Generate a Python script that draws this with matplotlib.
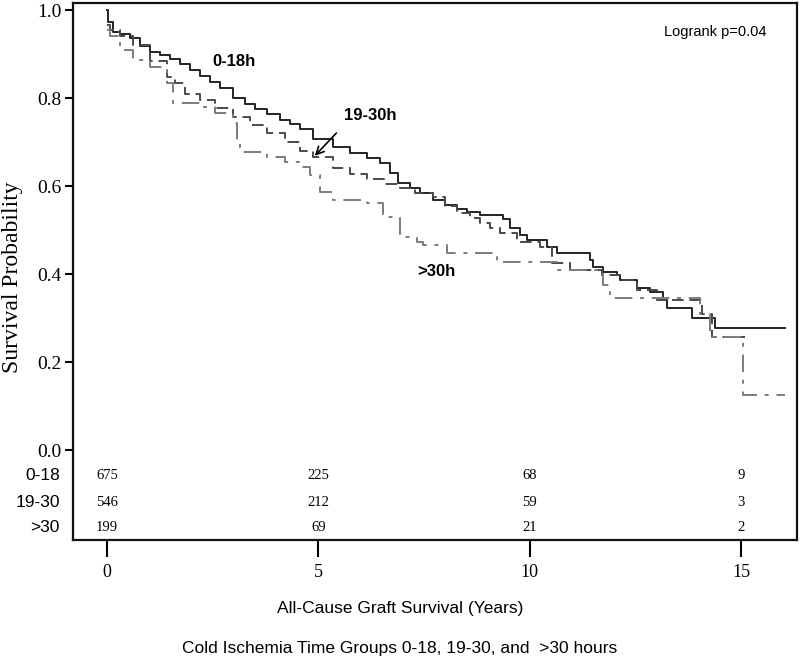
import matplotlib
matplotlib.use("Agg")
import matplotlib.pyplot as plt

# ---- data ----
t_0_18 = [0, 0.02, 0.14, 0.31, 0.54, 0.78, 1.02, 1.25, 1.49, 1.73, 1.96, 2.20, 2.44, 2.67,
          2.98, 3.26, 3.50, 3.79, 4.09, 4.33, 4.57, 4.87, 5.35, 5.75, 6.15, 6.46, 6.70, 6.88,
          7.17, 7.40, 7.71, 8.00, 8.28, 8.52, 8.82, 9.37, 9.53, 9.77, 9.94, 10.41, 10.65,
          11.43, 11.50, 11.73, 12.07, 12.14, 12.54, 12.85, 13.15, 13.25, 13.84, 14.38, 16.04]
s_0_18 = [1.0, 0.973, 0.950, 0.945, 0.937, 0.918, 0.905, 0.897, 0.888, 0.877, 0.863, 0.850,
          0.836, 0.822, 0.800, 0.787, 0.775, 0.764, 0.750, 0.740, 0.730, 0.708, 0.688, 0.675,
          0.663, 0.653, 0.630, 0.607, 0.595, 0.585, 0.568, 0.558, 0.548, 0.540, 0.535, 0.525,
          0.505, 0.489, 0.477, 0.461, 0.447, 0.432, 0.416, 0.405, 0.398, 0.386, 0.368, 0.359,
          0.341, 0.323, 0.300, 0.277, 0.277]

t_19_30 = [0, 0.07, 0.31, 0.62, 1.02, 1.42, 1.61, 1.85, 2.20, 2.55, 2.98, 3.38, 3.79, 4.21,
           4.57, 4.87, 5.35, 5.75, 6.15, 6.58, 6.93, 7.29, 7.71, 8.00, 8.28, 8.59, 8.82, 9.06,
           9.30, 9.70, 10.24, 10.53, 10.95, 11.71, 12.14, 12.54, 13.01, 14.08, 14.32, 15.09]
s_19_30 = [0.965, 0.955, 0.940, 0.920, 0.885, 0.848, 0.835, 0.810, 0.795, 0.777, 0.757,
           0.738, 0.720, 0.700, 0.680, 0.666, 0.640, 0.627, 0.616, 0.605, 0.595, 0.585, 0.575,
           0.555, 0.539, 0.527, 0.516, 0.505, 0.493, 0.473, 0.461, 0.425, 0.409, 0.398, 0.386,
           0.364, 0.341, 0.310, 0.257, 0.257]

t_30 = [0, 0.07, 0.31, 0.62, 1.02, 1.42, 1.56, 2.20, 2.55, 2.98, 3.08, 3.15, 3.79, 4.21,
        4.57, 4.80, 5.04, 5.35, 6.15, 6.53, 6.93, 7.33, 7.48, 8.04, 9.23, 10.65, 11.73,
        11.90, 14.03, 14.27, 15.05, 16.04]
s_30 = [0.955, 0.940, 0.910, 0.886, 0.871, 0.834, 0.788, 0.780, 0.765, 0.743, 0.700, 0.678,
        0.666, 0.655, 0.644, 0.625, 0.586, 0.568, 0.561, 0.530, 0.484, 0.473, 0.466, 0.448,
        0.428, 0.409, 0.375, 0.345, 0.310, 0.257, 0.125, 0.125]

risk_times = [0, 5, 10, 15]
risk_groups = ["0-18", "19-30", ">30"]
risk_0_18 = [675, 225, 68, 9]
risk_19_30 = [546, 212, 59, 3]
risk_30 = [199, 69, 21, 2]

x_ticks = [0, 5, 10, 15]
y_ticks = [0.0, 0.2, 0.4, 0.6, 0.8, 1.0]

# ---- figure ----
fig = plt.figure(figsize=(8, 6.6), dpi=100)
ax = fig.add_axes([73/800, 120/660, 724/800, 537/660])

ax.step(t_0_18, s_0_18, where="post", color="#222222", lw=1.4)
ax.step(t_19_30, s_19_30, where="post", color="#4a4a4a", lw=1.4, dashes=(6, 3))
ax.step(t_30, s_30, where="post", color="#7c7c7c", lw=1.4, dashes=(9, 4, 2, 4))

ax.set_xlim(-0.804, 16.32)
ax.set_ylim(-0.2045, 1.016)

ax.set_yticks(y_ticks)
ax.set_yticklabels([f"{v:.1f}" for v in y_ticks], family="Liberation Serif", fontsize=14)
ax.set_xticks(x_ticks)
ax.set_xticklabels([str(v) for v in x_ticks], family="Liberation Serif", fontsize=13)
ax.tick_params(axis="y", direction="out", length=6, width=1.5, pad=2)
ax.tick_params(axis="x", direction="out", length=12, width=1.5, pad=5)
for sp in ax.spines.values():
    sp.set_linewidth(1.6)
    sp.set_color("#111111")

# at-risk table
row_y = [-0.059, -0.120, -0.177]
for yv, name, vals in zip(row_y, risk_groups, [risk_0_18, risk_19_30, risk_30]):
    ax.text(-0.018, yv, name, transform=ax.get_yaxis_transform(), ha="right", va="center",
            family="Liberation Sans", fontsize=12.5, clip_on=False)
    for tv, n in zip(risk_times, vals):
        ax.text(tv, yv, str(n), ha="center", va="center", family="Liberation Serif",
                fontsize=10.5)

# annotations
ax.text(3.0, 0.884, "0-18h", ha="center", va="center", fontsize=12, fontweight="bold",
        family="Liberation Sans")
ax.text(6.22, 0.761, "19-30h", ha="center", va="center", fontsize=12, fontweight="bold",
        family="Liberation Sans")
ax.annotate("", xy=(4.87, 0.664), xytext=(5.47, 0.725),
            arrowprops=dict(arrowstyle="->", color="black", lw=1.2, mutation_scale=14))
ax.text(7.8, 0.405, ">30h", ha="center", va="center", fontsize=12, fontweight="bold",
        family="Liberation Sans")
ax.text(14.38, 0.95, "Logrank p=0.04", ha="center", va="center", fontsize=10.5,
        family="Liberation Sans")

ax.set_ylabel("Survival Probability", family="Liberation Serif", fontsize=17)
ax.yaxis.set_label_coords(-0.069, 0.49)

fig.text(0.5, 1 - 608/660, "All-Cause Graft Survival (Years)", ha="center", va="center",
         family="Liberation Sans", fontsize=12.5)
fig.text(0.5, 1 - 648/660, "Cold Ischemia Time Groups 0-18, 19-30, and  >30 hours",
         ha="center", va="center", family="Liberation Sans", fontsize=12.5)

fig.savefig("out.png", dpi=100)
